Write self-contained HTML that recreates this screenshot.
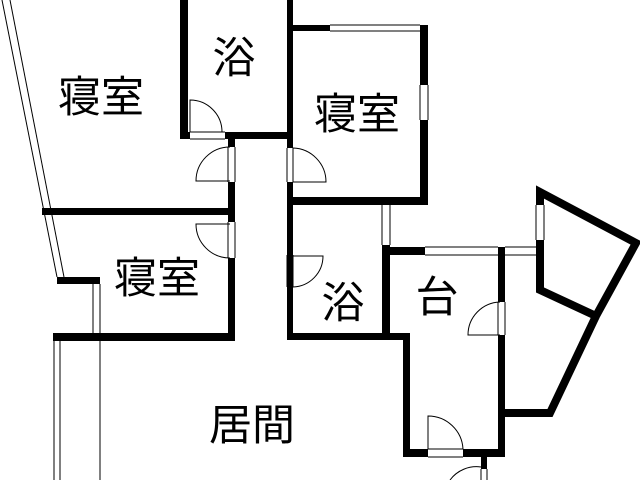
<!DOCTYPE html>
<html><head><meta charset="utf-8"><style>
html,body{margin:0;padding:0;background:#fff;width:640px;height:480px;overflow:hidden}
text{font-family:"Liberation Sans","Noto Sans CJK JP",sans-serif;fill:#000}
</style></head><body>
<svg width="640" height="480" viewBox="0 0 640 480" xmlns="http://www.w3.org/2000/svg">
<g fill="#000">
<rect x="180" y="0" width="8" height="139"/>
<rect x="180" y="132" width="10" height="7"/>
<rect x="225" y="132" width="68" height="7"/>
<rect x="287" y="0" width="6" height="148"/>
<rect x="287" y="182" width="6" height="158"/>
<rect x="293" y="25" width="37" height="6"/>
<rect x="420" y="25" width="8" height="60"/>
<rect x="420" y="120" width="8" height="85"/>
<rect x="287" y="197" width="141" height="8"/>
<rect x="228" y="139" width="7" height="8"/>
<rect x="228" y="182" width="7" height="40"/>
<rect x="228" y="258" width="7" height="83"/>
<rect x="42" y="208" width="193" height="7"/>
<rect x="57" y="277" width="43" height="7"/>
<rect x="53" y="333" width="182" height="8"/>
<rect x="287" y="333" width="123" height="7"/>
<rect x="382" y="245" width="8" height="95"/>
<rect x="382" y="247" width="43" height="8"/>
<rect x="498" y="247" width="7" height="55"/>
<rect x="498" y="335" width="7" height="122"/>
<rect x="403" y="333" width="7" height="124"/>
<rect x="403" y="449" width="25" height="8"/>
<rect x="463" y="449" width="42" height="8"/>
<rect x="481" y="457" width="6" height="12"/>
</g>
<g fill="none" stroke="#000" stroke-width="8" stroke-linejoin="miter">
<polyline points="540,240 540,290 596,316"/>
<polyline points="540,205 540,192 636,243 596,316 550,413 505,413"/>
</g>
<g fill="none" stroke="#000" stroke-width="1">
<line x1="2" y1="0" x2="57" y2="277"/>
<line x1="10" y1="0" x2="64" y2="277"/>
<line x1="190" y1="132" x2="225" y2="132"/><line x1="190" y1="139" x2="225" y2="139"/>
<line x1="330" y1="25" x2="420" y2="25"/><line x1="330" y1="31" x2="420" y2="31"/>
<line x1="420" y1="85" x2="420" y2="120"/><line x1="428" y1="85" x2="428" y2="120"/>
<line x1="287" y1="148" x2="287" y2="182"/><line x1="293" y1="148" x2="293" y2="182"/>
<line x1="228" y1="147" x2="228" y2="182"/><line x1="235" y1="147" x2="235" y2="182"/>
<line x1="228" y1="222" x2="228" y2="258"/><line x1="235" y1="222" x2="235" y2="258"/>
<line x1="93" y1="284" x2="93" y2="333"/><line x1="100" y1="284" x2="100" y2="333"/>
<line x1="54" y1="341" x2="54" y2="480"/><line x1="60" y1="341" x2="60" y2="480"/><line x1="100" y1="341" x2="100" y2="480"/>
<line x1="382" y1="205" x2="382" y2="245"/><line x1="390" y1="205" x2="390" y2="245"/>
<line x1="287" y1="255" x2="287" y2="287"/><line x1="293" y1="255" x2="293" y2="287"/>
<line x1="425" y1="247" x2="498" y2="247"/><line x1="425" y1="255" x2="498" y2="255"/>
<line x1="505" y1="247" x2="536" y2="247"/><line x1="505" y1="255" x2="536" y2="255"/>
<line x1="536" y1="205" x2="536" y2="240"/><line x1="544" y1="205" x2="544" y2="240"/>
<line x1="498" y1="302" x2="498" y2="335"/><line x1="505" y1="302" x2="505" y2="335"/>
<line x1="428" y1="449" x2="463" y2="449"/><line x1="428" y1="457" x2="463" y2="457"/>
<line x1="481" y1="469" x2="481" y2="480"/><line x1="487" y1="469" x2="487" y2="480"/>
<path d="M190,132 L190,100 A32,32 0 0 1 222,132"/>
<path d="M230,181 L196,181 A34,34 0 0 1 230,147"/>
<path d="M293,182 L326,182 A34,34 0 0 0 293,148"/>
<path d="M230,224 L196,224 A34,34 0 0 0 230,258"/>
<path d="M293,256 L323,256 A31,31 0 0 1 293,287"/>
<path d="M500,335 L468,335 A33,33 0 0 1 500,302"/>
<path d="M428,449 L428,416 A35,35 0 0 1 463,449"/>
<path d="M481,467 A33,33 0 0 0 450,480"/>
</g>
<g font-size="43" text-anchor="middle">
<text x="101" y="112">寝室</text>
<text x="234" y="73">浴</text>
<text x="357" y="129">寝室</text>
<text x="157" y="293">寝室</text>
<text x="343" y="318">浴</text>
<text x="437" y="312">台</text>
<text x="252" y="440">居間</text>
</g>
</svg>
</body></html>
